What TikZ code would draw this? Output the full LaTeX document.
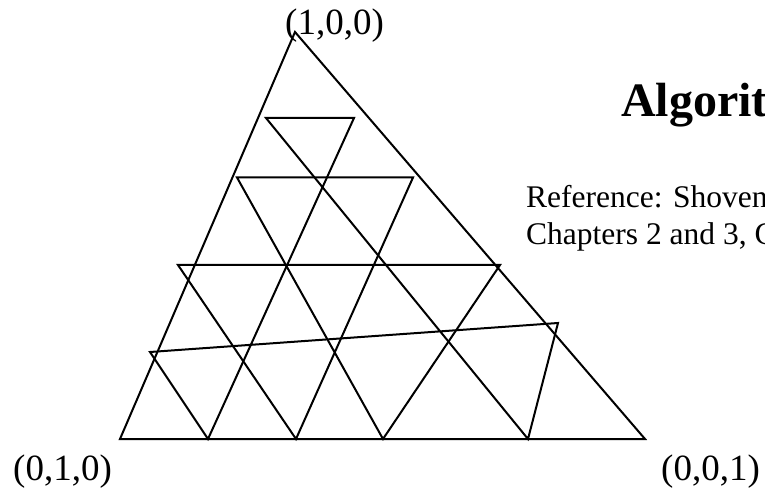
\documentclass[tikz,border=0pt]{standalone}
\usepackage{fontspec}
\setmainfont{Liberation Serif}
\begin{document}
\begin{tikzpicture}[x=1bp,y=-1bp,
  edge/.style={line width=2bp,line join=miter},
  lbl/.style={anchor=base west,inner sep=0pt,font=\fontsize{37bp}{44bp}\selectfont},
  reftext/.style={anchor=base west,inner sep=0pt,font=\fontsize{31.5bp}{37bp}\selectfont},
  ttl/.style={anchor=base west,inner sep=0pt,font=\fontsize{48bp}{58bp}\selectfont\bfseries}]
\clip (0,0) rectangle (765,488);
\useasboundingbox (0,0) rectangle (765,488);
% outer triangle
\coordinate (A) at (295,32);
\coordinate (B) at (120,439);
\coordinate (C) at (645,439);
% path vertices
\coordinate (t1) at (266,118);
\coordinate (t2) at (354,118);
\coordinate (s1) at (237,177.5);
\coordinate (s2) at (413,177.5);
\coordinate (r1) at (178,265);
\coordinate (r2) at (500,265);
\coordinate (q1) at (150,352);
\coordinate (q2) at (558,323);
\coordinate (b1) at (208,439);
\coordinate (b2) at (296,439);
\coordinate (b3) at (383,439);
\coordinate (b4) at (528,439);
\draw[edge] (A) -- (B) -- (C) -- cycle;
\draw[edge] (t1) -- (t2) -- (b1) -- (q1) -- (q2) -- (b4) -- cycle;
\draw[edge] (s1) -- (s2) -- (b2) -- (r1) -- (r2) -- (b3) -- cycle;
% labels
\node[lbl] (la) at (285,35) {(1,0,0)};
\node[lbl] (lb) at (13,480) {(0,1,0)};
\node[lbl] (lc) at (661,480) {(0,0,1)};
\node[ttl] (title) at (621,117) {Algorit};
\node[reftext] (ref1) at (526,208) {Reference: Shoven};
\node[reftext] (ref2) at (526,245) {Chapters 2 and 3, C};
\end{tikzpicture}
\end{document}
